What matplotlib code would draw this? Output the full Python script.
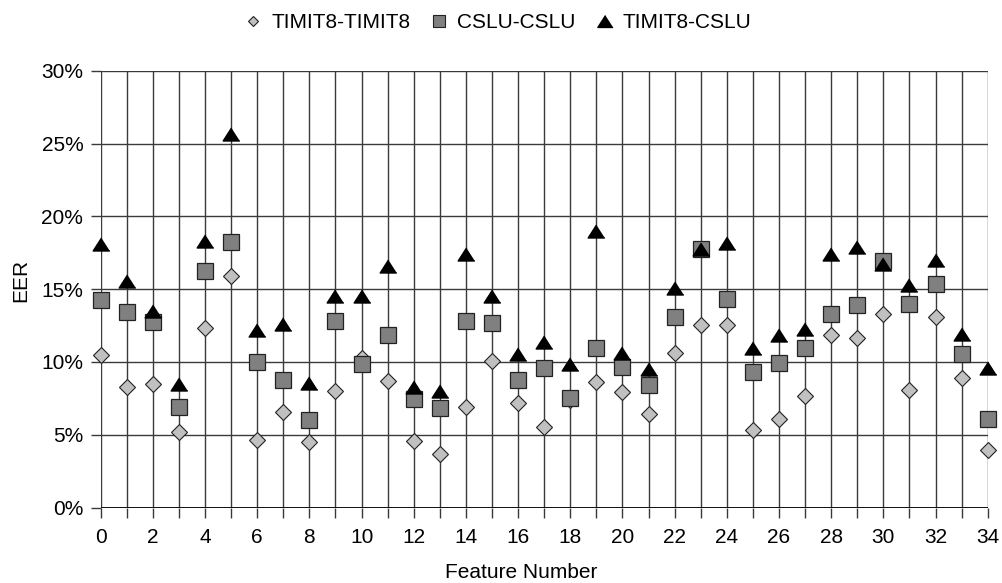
import numpy as np
import matplotlib
matplotlib.use("Agg")
import matplotlib.pyplot as plt
from matplotlib.lines import Line2D
from matplotlib.ticker import PercentFormatter

plt.rcParams['font.family'] = ['Liberation Sans', 'DejaVu Sans']

# EER per feature number, in percent
features = list(range(35))
timit_timit = [10.5, 8.3, 8.45, 5.16, 12.3, 15.87, 4.63, 6.53, 4.5, 7.97,
               10.3, 8.67, 4.54, 3.65, 6.92, 10.09, 7.17, 5.5, 7.4, 8.65,
               7.9, 6.41, 10.64, 12.53, 12.51, 5.3, 6.07, 7.67, 11.85, 11.67,
               13.31, 8.08, 13.1, 8.88, 3.95]
cslu_cslu = [14.25, 13.45, 12.74, 6.92, 16.23, 18.22, 10.02, 8.77, 6.03, 12.81,
             9.84, 11.87, 7.44, 6.83, 12.81, 12.65, 8.77, 9.59, 7.49, 10.96,
             9.66, 8.38, 13.08, 17.78, 14.29, 9.32, 9.93, 10.98, 13.26, 13.9,
             16.92, 13.95, 15.32, 10.52, 6.07]
timit_cslu = [18.1, 15.55, 13.5, 8.47, 18.33, 25.64, 12.17, 12.62, 8.56, 14.54,
              14.54, 16.58, 8.29, 8.01, 17.44, 14.54, 10.52, 11.39, 9.84, 19.0,
              10.59, 9.5, 15.09, 17.72, 18.17, 10.98, 11.85, 12.24, 17.44, 17.88,
              16.73, 15.27, 17.0, 11.9, 9.61]
series_names = ['TIMIT8-TIMIT8', 'CSLU-CSLU', 'TIMIT8-CSLU']

W, H = 1002, 583
fig = plt.figure(figsize=(W / 100, H / 100), dpi=100)
ax = fig.add_axes([100.7 / W, 1 - 507.5 / H, 887 / W, 436.8 / H])

gridc = '#3a3a3a'
fs = 15
ax.set_xlim(0, 34)
ax.set_ylim(0, 30)
ax.set_xticks(features, minor=True)
ax.set_xticks(range(0, 35, 2))
ax.set_yticks(range(0, 31, 5))
ax.yaxis.set_major_formatter(PercentFormatter(decimals=0))

for x in features:
    ax.axvline(x, color=gridc, lw=1.0, zorder=1)
for y in range(0, 31, 5):
    ax.axhline(y, color=gridc, lw=1.0, zorder=1)
ax.axhline(0, color='black', lw=1.3, zorder=1)

for s in ax.spines.values():
    s.set_visible(False)

ax.tick_params(axis='both', which='both', direction='out', length=7,
               width=1.0, color=gridc, labelsize=fs)
ax.tick_params(axis='x', which='both', pad=8)
ax.tick_params(axis='y', pad=5.5)

# Excel style triangle, wider than tall
tri = [(0, 0.78), (-1, -0.78), (1, -0.78)]
ax.plot(features, timit_timit, 'D', ms=7.8, mfc='#c0c0c0', mec='#222222',
        mew=0.8, ls='none', zorder=3, clip_on=False)
ax.plot(features, cslu_cslu, 's', ms=12, mfc='#808080', mec='#222222',
        mew=0.9, ls='none', zorder=4, clip_on=False)
ax.plot(features, timit_cslu, marker=tri, ms=12, mfc='black', mec='black',
        ls='none', zorder=5, clip_on=False)

ax.set_xlabel('Feature Number', fontsize=fs, va='top')
ax.xaxis.set_label_coords(521 / W, 1 - 563 / H, transform=fig.transFigure)
ax.set_ylabel('EER', fontsize=fs, va='center')
ax.yaxis.set_label_coords(21 / W, 1 - 280 / H, transform=fig.transFigure)

handles = [
    Line2D([], [], marker='D', ms=5.2, mfc='#c0c0c0', mec='#222222', mew=0.8, ls='none'),
    Line2D([], [], marker='s', ms=8, mfc='#808080', mec='#222222', mew=0.8, ls='none'),
    Line2D([], [], marker=tri, ms=11, mfc='black', mec='black', ls='none'),
]
fig.legend(handles, series_names, loc='center', ncol=3,
           bbox_to_anchor=(498 / W, 1 - 23 / H), frameon=False, fontsize=fs,
           handlelength=0.8, handletextpad=0.45, columnspacing=1.0,
           borderpad=0, borderaxespad=0)

fig.savefig('out.png', dpi=100)
